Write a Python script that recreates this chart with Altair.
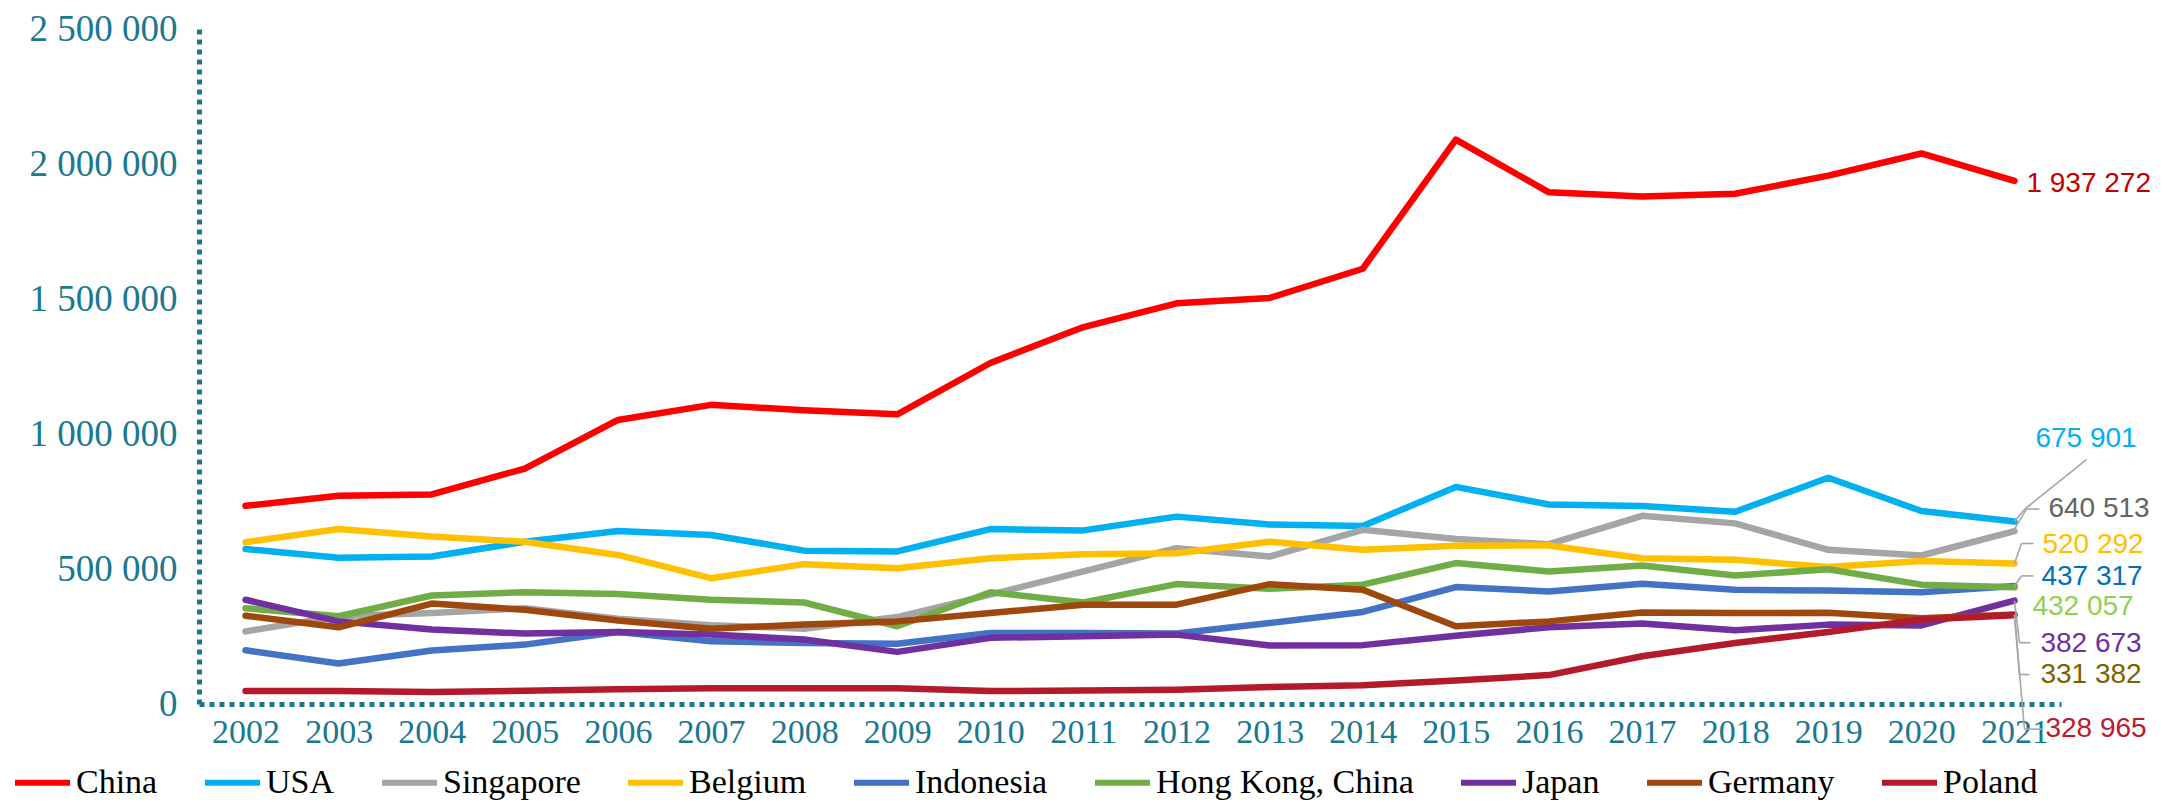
import altair as alt
import pandas as pd

years = list(range(2002, 2022))
countries = ["China", "USA", "Singapore", "Belgium", "Indonesia",
             "Hong Kong, China", "Japan", "Germany", "Poland"]

china = [734000, 771000, 776000, 872000, 1052000, 1108000, 1088000, 1073000, 1263000, 1396000,
         1484000, 1504000, 1612000, 2090000, 1895000, 1880000, 1890000, 1957000, 2039000, 1937272]
usa = [574000, 542000, 546000, 601000, 641000, 626000, 568000, 565000, 648000, 643000,
       694000, 665000, 659000, 804000, 739000, 733000, 712000, 838000, 715000, 675901]
singapore = [269000, 325000, 337000, 355000, 316000, 292000, 279000, 322000, 405000, 491000,
             577000, 546000, 645000, 611000, 592000, 697000, 669000, 571000, 550000, 640513]
belgium = [599000, 648000, 620000, 601000, 552000, 466000, 518000, 503000, 540000, 555000,
           558000, 601000, 571000, 586000, 587000, 540000, 534000, 507000, 530000, 520292]
indonesia = [199000, 150000, 198000, 220000, 267000, 232000, 226000, 223000, 263000, 263000,
             261000, 300000, 341000, 433000, 417000, 445000, 423000, 420000, 414000, 437317]
hongkong = [355000, 325000, 402000, 414000, 407000, 386000, 376000, 288000, 414000, 376000,
            444000, 427000, 442000, 522000, 491000, 513000, 476000, 499000, 442000, 432057]
japan = [386000, 306000, 276000, 261000, 267000, 257000, 239000, 193000, 245000, 251000,
         257000, 217000, 218000, 253000, 284000, 298000, 273000, 294000, 291000, 382673]
germany = [327000, 284000, 372000, 349000, 309000, 279000, 294000, 306000, 337000, 368000,
           368000, 444000, 423000, 288000, 306000, 339000, 337000, 338000, 318000, 331382]
poland = [48000, 48000, 44000, 49000, 55000, 58000, 58000, 58000, 48000, 50000,
          53000, 63000, 69000, 87000, 107000, 177000, 226000, 267000, 313000, 328965]

series = [china, usa, singapore, belgium, indonesia, hongkong, japan, germany, poland]
y_ticks = [0, 500000, 1000000, 1500000, 2000000, 2500000]

# styles
line_colors = ["#FF0000", "#00B0F0", "#A5A5A5", "#FFC000", "#4472C4",
               "#70AD47", "#7030A0", "#9E480E", "#B31B2C"]
label_colors = ["#C00000", "#00B0F0", "#646464", "#FFC000", "#0070C0",
                "#92D050", "#7030A0", "#7F6000", "#C0182E"]
label_dx = [12, 21, 34, 28, 27, 18, 26, 26, 31]
label_dy = [3, -83, -22, -19, -9, 20, 43, 60, 114]
# leader polylines (pixel offsets from the end point)
leaders = {
    "USA": [(0, 0), (11, -13), (72, -62)],
    "Singapore": [(0, -2), (12, -22), (25, -22)],
    "Belgium": [(0, 0), (7, -20), (19, -20)],
    "Indonesia": [(0, 0), (7, -10), (19, -10)],
    "Japan": [(0, 0), (5, 42), (16, 42)],
    "Germany": [(0, 0), (5, 60), (15, 60)],
    "Poland": [(0, 0), (10, 114), (28, 114)],
}
TEAL = "#1A7891"

rows = []
for c, vals in zip(countries, series):
    for yr, v in zip(years, vals):
        rows.append({"country": c, "year": yr, "value": v})
df = pd.DataFrame(rows)

x_enc = alt.X("year:O", scale=alt.Scale(type="point", padding=0.5),
              axis=alt.Axis(title=None, labelAngle=0, labelFont="Liberation Serif",
                            labelFontSize=34, labelColor=TEAL, labelPadding=11,
                            ticks=False, domain=True, domainColor=TEAL, domainWidth=5,
                            domainDash=[5, 5], grid=False))
y_enc = alt.Y("value:Q", scale=alt.Scale(domain=[0, 2500000], nice=False, zero=True),
              axis=alt.Axis(title=None, values=y_ticks, ticks=False,
                            labelFont="Liberation Serif", labelFontSize=37, labelColor=TEAL,
                            labelPadding=22, domain=True, domainColor=TEAL, domainWidth=5,
                            domainDash=[5, 5], grid=False,
                            labelExpr="replace(format(datum.value, ','), regexp(',', 'g'), ' ')"))

lines = alt.Chart(df).mark_line(strokeWidth=6.5, strokeCap="round", strokeJoin="round").encode(
    x=x_enc, y=y_enc,
    color=alt.Color("country:N", sort=countries,
                    scale=alt.Scale(domain=countries, range=line_colors),
                    legend=alt.Legend(title=None, orient="none", direction="horizontal",
                                      legendX=-187, legendY=723, symbolType="stroke",
                                      symbolSize=3025, symbolStrokeWidth=6,
                                      labelFont="Liberation Serif", labelFontSize=34,
                                      labelColor="black", labelOffset=3, columnPadding=35,
                                      padding=0, labelLimit=400)),
)

layers = [lines]
last = df[df["year"] == 2021]
for i, c in enumerate(countries):
    sub = last[last["country"] == c].copy()
    sub["label"] = sub["value"].map(lambda v: f"{int(v):,}".replace(",", " "))
    if c in leaders:
        pts = leaders[c]
        for (ax, ay), (bx, by) in zip(pts[:-1], pts[1:]):
            layers.append(alt.Chart(sub).mark_rule(
                color="#A6A6A6", strokeWidth=1.6,
                xOffset=ax, yOffset=ay, x2Offset=bx, y2Offset=by).encode(
                x="year:O", x2="year:O", y="value:Q", y2="value:Q"))
    layers.append(alt.Chart(sub).mark_text(
        align="left", baseline="middle", dx=label_dx[i], dy=label_dy[i],
        font="Liberation Sans", fontSize=28, color=label_colors[i]).encode(
        x="year:O", y="value:Q", text="label:N"))

chart = alt.layer(*layers).properties(
    width=1862, height=675,
    autosize=alt.AutoSizeParams(type="none"),
    padding={"left": 191, "top": 21, "right": 110, "bottom": 97},
).configure_view(stroke=None)

chart.save("out.html", embed_options={"renderer": "svg", "actions": False})
